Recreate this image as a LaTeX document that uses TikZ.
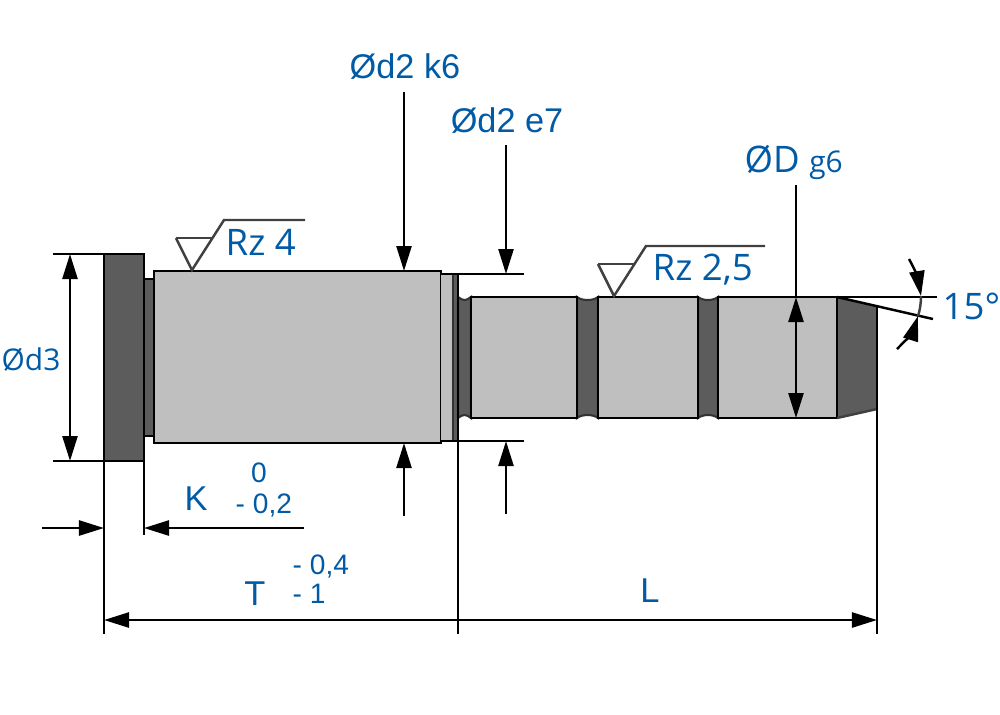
\documentclass[tikz,border=0pt]{standalone}
\usepackage{fontspec}
\setmainfont{Open Sans}
\newfontfamily\arialfont{Liberation Sans}
\usetikzlibrary{arrows.meta}
\definecolor{labelblue}{RGB}{0,90,165}
\definecolor{darkpart}{RGB}{92,92,92}
\definecolor{lightpart}{RGB}{191,191,191}
\tikzset{
  partline/.style={draw=black, line width=0.8pt},
  grooveline/.style={draw=black!80, line width=0.6pt},
  dimline/.style={line width=0.7pt, -{Triangle[length=0.25cm,width=0.15cm]}},
  dimboth/.style={line width=0.7pt, {Triangle[length=0.25cm,width=0.15cm]}-{Triangle[length=0.25cm,width=0.15cm]}},
  extline/.style={line width=0.7pt},
  roughline/.style={line width=0.7pt, draw=black!75},
  bigtext/.style={text=labelblue, inner sep=0pt, font=\fontsize{10.4}{12}\selectfont},
  smalltext/.style={text=labelblue, inner sep=0pt, font=\arialfont\fontsize{8}{9}\selectfont},
  arialtext/.style={text=labelblue, inner sep=0pt, font=\arialfont\fontsize{9.8}{11}\selectfont}
}
\begin{document}
\begin{tikzpicture}[x=0.01cm,y=-0.01cm]
\useasboundingbox (0,0) rectangle (1000,714);

% Head and recess on the left
\fill[darkpart, partline] (104,254) rectangle (144,461);
\fill[darkpart, partline] (144,279) rectangle (154,436);
\fill[lightpart, partline] (154,271) rectangle (441,443);
\fill[lightpart] (441,274) rectangle (453,441);
\fill[darkpart] (453,274) rectangle (458,441);
\draw[grooveline] (453,274) -- (453,441);

% Grooves and shaft sections
\foreach \xa/\xb in {458/471, 577/598, 698/718} {
  \fill[darkpart, grooveline] (\xa,297) .. controls (\xa+5,301) and (\xb-5,301) .. (\xb,297)
    -- (\xb,418) .. controls (\xb-5,414) and (\xa+5,414) .. (\xa,418) -- cycle;
}
\foreach \xa/\xb in {471/577, 598/698, 718/837} {
  \fill[lightpart, partline] (\xa,297) rectangle (\xb,418);
}
% Chamfered end
\fill[darkpart] (837,297) -- (877,307) -- (877,409) -- (837,418) -- cycle;
\draw[partline] (837,418) -- (837,297);
\draw[roughline] (837,418) -- (877,409);

% Extension lines
\draw[extline] (53,254) -- (104,254);
\draw[extline] (53,461) -- (104,461);
\draw[extline] (104,461) -- (104,634);
\draw[extline] (144,461) -- (144,535);
\draw[extline] (458,274) -- (458,634);
\draw[extline] (877,307) -- (877,634);
\draw[extline] (441,274) -- (524,274);
\draw[extline] (441,441) -- (524,441);
\draw[extline] (837,297) -- (937,297);
\draw[extline] (837,297) -- (933,319);

% Dimension arrows
\draw[dimboth] (70,254) -- (70,461);
\draw[dimline] (42,528) -- (104,528);
\draw[dimline] (304,528) -- (144,528);
\draw[dimline] (458,620) -- (104,620);
\draw[dimline] (458,620) -- (877,620);
\draw[dimline] (404,92) -- (404,271);
\draw[dimline] (404,516) -- (404,443);
\draw[dimline] (506,145) -- (506,274);
\draw[dimline] (506,514) -- (506,441);
\draw[extline] (796,185) -- (796,297);
\draw[dimboth] (796,297) -- (796,418);

% Angle marks
\draw[roughline] (921,296) .. controls (921,303) and (920,310) .. (918,316);
\draw[dimline] (909,259) .. controls (913,266) and (918,278) .. (921,296);
\draw[dimline] (897,349) .. controls (905,341) and (913,332) .. (918,316);

% Surface symbols
\draw[roughline] (176,238) -- (213,238);
\draw[roughline] (176,238) -- (192,270) -- (224,220) -- (305,220);
\draw[roughline] (598,264) -- (635,264);
\draw[roughline] (598,264) -- (614,296) -- (646,246) -- (765,246);

% Labels
\node[arialtext, font=\arialfont\fontsize{9.75}{11}\selectfont] (dtwokay) at (405,67) {Ød2 k6};
\node[arialtext, font=\arialfont\fontsize{9.75}{11}\selectfont] (dtwoe) at (507,121) {Ød2 e7};
\node[bigtext, anchor=base west] (dlarge) at (744,172) {ØD {\fontsize{8.5}{9}\selectfont g6}};
\node[bigtext, font=\fontsize{8.5}{10}\selectfont] (dthree) at (31,360) {Ød3};
\node[bigtext, anchor=base west] (rzfour) at (225,255) {Rz 4};
\node[bigtext, anchor=base west] (rztwo) at (652,280) {Rz 2,5};
\node[bigtext, anchor=base west] (angle) at (942,319) {15°};
\node[arialtext, anchor=base] (ktext) at (196,510) {K};
\node[smalltext, anchor=base] (kup) at (259,482) {0};
\node[smalltext, anchor=base west] (klow) at (235,513) {- 0,2};
\node[arialtext, anchor=base] (ttext) at (255,605) {T};
\node[smalltext, anchor=base west] (tup) at (292,574) {- 0,4};
\node[smalltext, anchor=base west] (tlow) at (292,603) {- 1};
\node[arialtext, anchor=base] (ltext) at (650,602) {L};
\end{tikzpicture}
\end{document}
